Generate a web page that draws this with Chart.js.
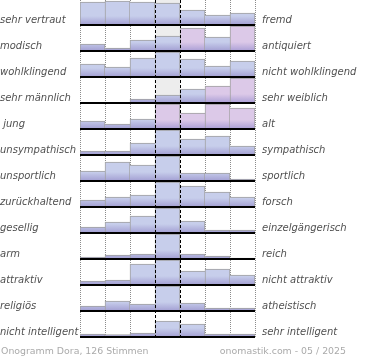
<!DOCTYPE html>
<html>
<head>
<meta charset="utf-8">
<script src="https://cdn.jsdelivr.net/npm/chart.js@4"></script>
<style>
    body { margin: 0; background: #fff; }
    #wrap { position: relative; width: 370px; height: 360px; }
    .foot { position: absolute; top: 345px; font: 9.4px 'DejaVu Sans', sans-serif; line-height: 11px; color: #aaa; white-space: nowrap; }
</style>
</head>
<body>
<div id="wrap">
    <canvas id="onogramm" width="370" height="360"></canvas>
    <div class="foot" style="left:1px">Onogramm Dora, 126 Stimmen</div>
    <div class="foot" style="right:24px">onomastik.com - 05 / 2025</div>
</div>
<script>
// Stufen der Skala (links -> rechts)
const COLS = ['1', '2', '3', '4', '5', '6', '7'];
const LEFT_LABELS = ['sehr vertraut', 'modisch', 'wohlklingend', 'sehr männlich', ' jung', 'unsympathisch',
    'unsportlich', 'zurückhaltend', 'gesellig', 'arm', 'attraktiv', 'religiös', 'nicht intelligent'];
const RIGHT_LABELS = ['fremd', 'antiquiert', 'nicht wohlklingend', 'sehr weiblich', 'alt', 'sympathisch',
    'sportlich', 'forsch', 'einzelgängerisch', 'reich', 'nicht attraktiv', 'atheistisch', 'sehr intelligent'];

// relative Balkenhöhe je Zeile, 0..25
const VALUES = [
    [23, 24, 23, 22, 15, 10, 12],
    [7, 3, 11, 15, 23, 14, 25],
    [13, 10, 19, 25, 18, 11, 16],
    [0, 0, 4, 8, 14, 17, 25],
    [8, 5, 10, 25, 16, 25, 21],
    [4, 4, 12, 25, 16, 19, 9],
    [10, 19, 16, 25, 8, 8, 2],
    [7, 10, 12, 25, 21, 15, 10],
    [6, 11, 17, 25, 12, 3, 3],
    [2, 4, 5, 25, 5, 3, 1],
    [4, 5, 21, 25, 14, 16, 10],
    [5, 10, 7, 25, 8, 3, 3],
    [3, 2.5, 4, 16, 13, 3, 3],
];
// [zeile, spalte] der rosa Balken
const PINK_BARS = [[1, 4], [1, 6], [3, 5], [3, 6], [4, 3], [4, 4], [4, 5], [4, 6]];
// Zeilen mit grauem Hintergrund in der Mittelspalte
const GRAY_ROWS = [0, 1, 3];
const MID = 3;

const ROW = 26;
const base = (r) => (VALUES.length - 1 - r) * ROW + 1;
const isPink = (r, j) => PINK_BARS.some(p => p[0] === r && p[1] === j);

function barFill(ctx, pink) {
    const { chart, raw } = ctx;
    const flat = pink ? '#d6c6e6' : '#c3c9e9';
    if (!raw || !chart.chartArea || !chart.scales.y) return flat;
    const yb = chart.scales.y.getPixelForValue(raw[0]);
    if (!isFinite(yb)) return flat;
    const g = chart.ctx.createLinearGradient(0, yb - 9, 0, yb);
    g.addColorStop(0, pink ? '#dcc9e8' : '#c7ceeb');
    g.addColorStop(1, pink ? '#aa9ed5' : '#a29ed2');
    return g;
}

const barSets = VALUES.map((vals, r) => ({
    row: r,
    order: 1,
    data: vals.map(h => h > 0 ? [base(r), base(r) + h] : null),
    backgroundColor: (ctx) => barFill(ctx, isPink(r, ctx.dataIndex)),
    borderColor: '#a0a0a0',
    borderSkipped: false,
    borderWidth: (ctx) => {
        const j = ctx.dataIndex;
        return {
            top: 1, bottom: 0,
            left: (j === 0 || vals[j - 1] < vals[j]) ? 1 : 0,
            right: (j === vals.length - 1 || vals[j + 1] <= vals[j]) ? 1 : 0,
        };
    },
}));

const graySets = GRAY_ROWS.map(r => ({
    order: 2,
    data: COLS.map((c, j) => j === MID ? [base(r), base(r) + ROW - 1] : null),
    backgroundColor: '#ededed',
    borderWidth: 0,
}));

const labelFont = { family: 'DejaVu Sans', style: 'italic', size: 10 };
const noPad = (w) => (s) => { s.width = w; s.paddingTop = 0; s.paddingBottom = 0; };

new Chart(document.getElementById('onogramm'), {
    type: 'bar',
    data: { labels: COLS, datasets: [...barSets, ...graySets] },
    options: {
        responsive: false,
        animation: false,
        events: [],
        layout: { padding: { left: 0, right: 0, top: 0, bottom: 22 } },
        datasets: { bar: { barPercentage: 1, categoryPercentage: 1, grouped: false } },
        plugins: { legend: { display: false }, tooltip: { enabled: false } },
        scales: {
            x: {
                type: 'category', offset: true,
                grid: { offset: true, drawTicks: false, lineWidth: 1,
                    color: (c) => (c.index === MID || c.index === MID + 1) ? 'transparent' : '#8c8c8c' },
                border: { display: false, dash: [1, 1] },
                ticks: { display: false },
            },
            x2: {
                type: 'category', labels: COLS, offset: true, position: 'bottom',
                grid: { offset: true, drawTicks: false, lineWidth: 1, z: 1,
                    color: (c) => (c.index === MID || c.index === MID + 1) ? '#000' : 'transparent' },
                border: { display: false, dash: [3, 2] },
                ticks: { display: false },
            },
            y: {
                type: 'linear', position: 'left', min: 0, max: VALUES.length * ROW,
                afterBuildTicks: (s) => { s.ticks = VALUES.map((v, r) => ({ value: base(r) })); },
                grid: { color: '#000', lineWidth: 2, drawTicks: false, z: 1 },
                border: { display: false },
                ticks: { display: false },
            },
            yl: {
                type: 'category', labels: LEFT_LABELS, position: 'left', offset: true,
                grid: { display: false, drawTicks: false }, border: { display: false },
                ticks: { autoSkip: false, crossAlign: 'far', padding: 0, labelOffset: 7, color: '#505050', font: labelFont },
                afterFit: noPad(80),
            },
            yr: {
                type: 'category', labels: RIGHT_LABELS, position: 'right', offset: true,
                grid: { display: false, drawTicks: false }, border: { display: false },
                ticks: { autoSkip: false, crossAlign: 'near', padding: 7, labelOffset: 7, color: '#505050', font: labelFont },
                afterFit: noPad(115),
            },
        },
    },
});
</script>
</body>
</html>
